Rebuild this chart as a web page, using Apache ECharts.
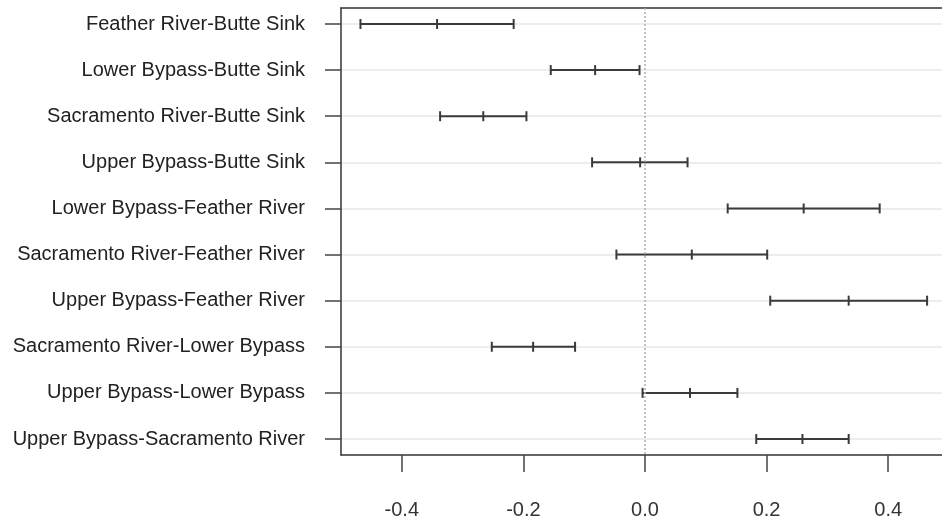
<!DOCTYPE html>
<html>
<head>
<meta charset="utf-8">
<script src="https://cdn.jsdelivr.net/npm/echarts@6/dist/echarts.min.js"></script>
<style>
html,body{margin:0;padding:0;background:#fff;}
#c{width:942px;height:523px;}
</style>
</head>
<body>
<div id="c"></div>
<script>
const categories = [
  "Feather River-Butte Sink",
  "Lower Bypass-Butte Sink",
  "Sacramento River-Butte Sink",
  "Upper Bypass-Butte Sink",
  "Lower Bypass-Feather River",
  "Sacramento River-Feather River",
  "Upper Bypass-Feather River",
  "Sacramento River-Lower Bypass",
  "Upper Bypass-Lower Bypass",
  "Upper Bypass-Sacramento River"
];
const lower = [-0.468, -0.155, -0.337, -0.087, 0.136, -0.047, 0.206, -0.252, -0.004, 0.183];
const estimate = [-0.342, -0.082, -0.266, -0.008, 0.261, 0.077, 0.335, -0.184, 0.074, 0.259];
const upper = [-0.216, -0.009, -0.195, 0.070, 0.386, 0.201, 0.464, -0.115, 0.152, 0.335];
const xTicks = [-0.4, -0.2, 0.0, 0.2, 0.4];

const rows = categories.map((c, i) => i + 1);
const data = categories.map((c, i) => [rows[i], lower[i], estimate[i], upper[i]]);

const chart = echarts.init(document.getElementById('c'), null, {renderer: 'canvas'});
const FONT = '"Liberation Sans", Arial, Helvetica, sans-serif';
const XMIN = -0.5, XMAX = 0.4885;

chart.setOption({
  animation: false,
  backgroundColor: '#ffffff',
  grid: {
    left: 341, top: 8, right: 0, height: 447,
    show: false
  },
  xAxis: [{
    type: 'value',
    min: XMIN, max: XMAX,
    position: 'bottom',
    axisLine: {show: true, onZero: false, lineStyle: {color: '#333333', width: 1.5}},
    axisTick: {show: true, length: 17, inside: false, customValues: xTicks, lineStyle: {color: '#444444', width: 1.5}},
    axisLabel: {
      customValues: xTicks,
      margin: 45, fontSize: 20, color: '#333333', fontFamily: FONT,
      formatter: v => v.toFixed(1)
    },
    splitLine: {show: false}
  }, {
    type: 'value',
    min: XMIN, max: XMAX,
    position: 'top',
    axisLine: {show: true, onZero: false, lineStyle: {color: '#333333', width: 1.5}},
    axisTick: {show: false},
    axisLabel: {show: false},
    splitLine: {show: false}
  }],
  yAxis: {
    type: 'value',
    inverse: true,
    min: 0.653, max: 10.347,
    axisLine: {show: true, onZero: false, lineStyle: {color: '#333333', width: 1.5}},
    axisTick: {show: true, length: 16, customValues: rows, lineStyle: {color: '#444444', width: 1.5}},
    axisLabel: {
      customValues: rows,
      margin: 36, fontSize: 20, color: '#222222', fontFamily: FONT,
      formatter: v => categories[Math.round(v) - 1] || ''
    },
    splitLine: {show: true, lineStyle: {color: '#ededed', width: 2}}
  },
  series: [{
    type: 'custom',
    xAxisIndex: 0,
    data: data,
    encode: {x: [1, 2, 3], y: 0},
    renderItem: function (params, api) {
      const r = api.value(0);
      const pL = api.coord([api.value(1), r]);
      const pM = api.coord([api.value(2), r]);
      const pU = api.coord([api.value(3), r]);
      const h = 5;
      const st = {stroke: '#3a3a3a', lineWidth: 2};
      return {
        type: 'group',
        children: [
          {type: 'line', shape: {x1: pL[0], y1: pL[1], x2: pU[0], y2: pU[1]}, style: st},
          {type: 'line', shape: {x1: pL[0], y1: pL[1] - h, x2: pL[0], y2: pL[1] + h}, style: st},
          {type: 'line', shape: {x1: pM[0], y1: pM[1] - h, x2: pM[0], y2: pM[1] + h}, style: st},
          {type: 'line', shape: {x1: pU[0], y1: pU[1] - h, x2: pU[0], y2: pU[1] + h}, style: st}
        ]
      };
    },
    markLine: {
      silent: true,
      symbol: ['none', 'none'],
      label: {show: false},
      lineStyle: {color: '#b0b0b0', type: [2, 2], width: 1.5},
      data: [{xAxis: 0}]
    },
    z: 3
  }]
});
</script>
</body>
</html>
